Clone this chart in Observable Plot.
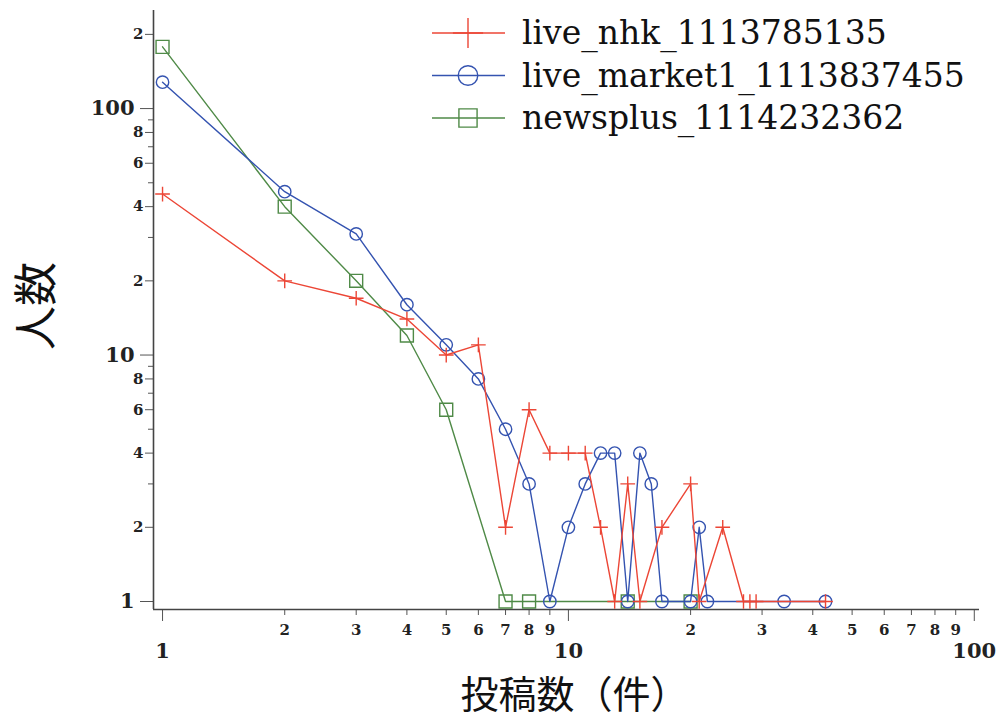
<!DOCTYPE html>
<html><head><meta charset="utf-8">
<script src="https://cdn.jsdelivr.net/npm/d3@7"></script>
<script src="https://cdn.jsdelivr.net/npm/@observablehq/plot@0.6"></script>
<style>
body{margin:0;background:#fff}
#wrap{position:relative;width:1006px;height:723px;overflow:hidden}
#legend{position:absolute;left:420px;top:0px}
</style>
</head><body><div id="wrap"></div><script>
// ---- data ----
const nhkX = [1,2,3,4,5,6,7,8,9,10,11,12,13,14,15,17,20,21,24,27,28,29,43];
const nhkY = [45,20,17,14,10,11,2,6,4,4,4,2,1,3,1,2,3,1,2,1,1,1,1];
const marketX = [1,2,3,4,5,6,7,8,9,10,11,12,13,14,15,16,17,20,21,22,34,43];
const marketY = [128,46,31,16,11,8,5,3,1,2,3,4,4,1,4,3,1,1,2,1,1,1];
const newsX = [1,2,3,4,5,7,8,14,20];
const newsY = [178,40,20,12,6,1,1,1,1];
const seriesNames = ["live_nhk_1113785135","live_market1_1113837455","newsplus_1114232362"];
const xMajor = [1,10,100];
const xMinor = [2,3,4,5,6,7,8,9,20,30,40,50,60,70,80,90];
const yMajor = [1,10,100];
const yMinorLabeled = [2,4,6,8,20,40,60,80,200];
const yMinor = [3,5,7,9,30,50,70,90];
const xTitle = "投稿数（件）";
const yTitle = "人数";

// ---- styles ----
const colors = ["#ec4636","#3453b0","#4f8a47"];
const symbols = ["plus","circle","square"];
const radii = [4.8,6.2,7.3];
const serif = "'DejaVu Serif',serif";
const cjk = "'Noto Sans CJK JP','Noto Sans CJK SC',sans-serif";

const series = [
  {name: seriesNames[0], x: nhkX, y: nhkY},
  {name: seriesNames[1], x: marketX, y: marketY},
  {name: seriesNames[2], x: newsX, y: newsY}
].map((s,i)=>({...s, color: colors[i], symbol: symbols[i], r: radii[i],
   rows: s.x.map((x,j)=>({x, y: s.y[j]}))}));

const xDom = [0.95, 103], yDom = [0.928, 250];
const minorFmt = d => String(Math.round(d / Math.pow(10, Math.floor(Math.log10(d) + 1e-9))));
const noLabel = () => "";

const drawOrder = [2,1,0];
const dataMarks = drawOrder.flatMap(i => {
  const s = series[i];
  return [
    Plot.line(s.rows, {x:"x", y:"y", stroke: s.color, strokeWidth: 1.4}),
    Plot.dot(s.rows, {x:"x", y:"y", stroke: s.color, symbol: s.symbol, r: s.r, strokeWidth: 1.4, fill: "none"})
  ];
});

const lab = {fontFamily: serif, fontWeight: "bold", fill: "#222", lineAnchor: "middle"};

const plot = Plot.plot({
  width: 1006, height: 723,
  marginLeft: 153, marginRight: 27, marginTop: 10, marginBottom: 114,
  style: {fontFamily: serif, background: "white", color: "#222"},
  x: {type: "log", domain: xDom},
  y: {type: "log", domain: yDom},
  marks: [
    Plot.axisY({ticks: yMinor, tickSize: 5, tickFormat: noLabel, label: null, stroke: "#555"}),
    Plot.axisY({ticks: yMinorLabeled, tickSize: 8, tickFormat: noLabel, label: null, stroke: "#555"}),
    Plot.axisY({ticks: yMajor, tickSize: 13, tickFormat: noLabel, label: null, stroke: "#555"}),
    Plot.axisX({ticks: xMinor, tickSize: 6, tickFormat: noLabel, label: null, stroke: "#555"}),
    Plot.axisX({ticks: xMajor, tickSize: 12, tickFormat: noLabel, label: null, stroke: "#555"}),
    Plot.text(yMinorLabeled, {...lab, y: d => d, text: minorFmt, frameAnchor: "left", dx: -10, textAnchor: "end", fontSize: 15}),
    Plot.text(yMajor, {...lab, y: d => d, text: d => String(d), frameAnchor: "left", dx: -19, textAnchor: "end", fontSize: 21}),
    Plot.text(xMinor, {...lab, x: d => d, text: minorFmt, frameAnchor: "bottom", dy: 21, textAnchor: "middle", fontSize: 15}),
    Plot.text(xMajor, {...lab, x: d => d, text: d => String(d), frameAnchor: "bottom", dy: 42, textAnchor: "middle", fontSize: 21}),
    Plot.ruleX([xDom[0]], {stroke: "#444", strokeWidth: 1.6}),
    Plot.ruleY([yDom[0]], {stroke: "#444", strokeWidth: 1.6}),
    ...dataMarks,
    Plot.text([xTitle], {text: d => d, frameAnchor: "bottom", dx: 8, dy: 86, fontSize: 38, fontFamily: cjk, fill: "#111", lineAnchor: "middle", textAnchor: "middle"}),
    Plot.text([yTitle], {text: d => d, frameAnchor: "left", dx: -116, dy: -4, rotate: -90, fontSize: 44, fontFamily: cjk, fill: "#111", lineAnchor: "middle", textAnchor: "middle"})
  ]
});
document.getElementById("wrap").appendChild(plot);

// ---- legend overlay ----
const leg = d3.select("#wrap").append("svg").attr("id","legend").attr("width",586).attr("height",140);
const legSyms = {plus: d3.symbolPlus, circle: d3.symbolCircle, square: d3.symbolSquare};
const legSizes = {plus: 300, circle: 300, square: 330};
series.forEach((s,i) => {
  const g = leg.append("g").attr("transform", `translate(0,${33 + 42.5*i})`);
  g.append("line").attr("x1",12).attr("x2",85).attr("y1",0).attr("y2",0).attr("stroke",s.color).attr("stroke-width",1.4);
  g.append("path").attr("transform","translate(48,0)").attr("d", d3.symbol(legSyms[s.symbol], legSizes[s.symbol])())
    .attr("fill","none").attr("stroke",s.color).attr("stroke-width",1.4);
  g.append("text").attr("x",102).attr("y",11).attr("font-family",serif).attr("font-size",33)
    .attr("fill","#111").text(s.name);
});
</script></body></html>
